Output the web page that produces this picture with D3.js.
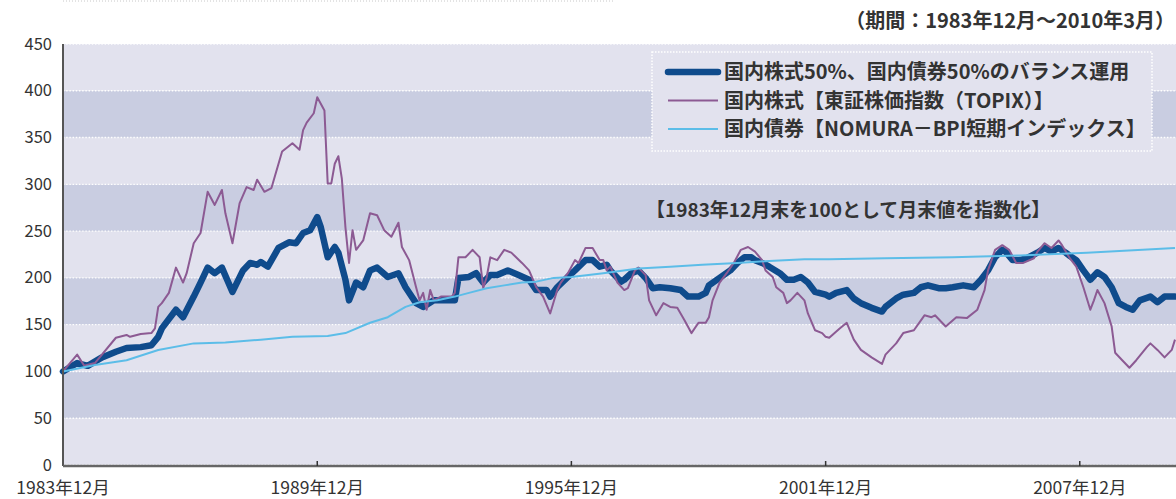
<!DOCTYPE html>
<html><head><meta charset="utf-8">
<script src="https://cdn.jsdelivr.net/npm/d3@7"></script>
<style>
html,body{margin:0;padding:0;background:#fff;}
svg{display:block;}
text{font-family:"Noto Sans CJK JP","DejaVu Sans",sans-serif;}
</style></head>
<body>
<svg id="chart" width="1176" height="499"></svg>
<script>
// ---- data (index, 1983年12月末 = 100) ----
const topixMonths = ["1983-12","1984-04","1984-06","1984-09","1985-03","1985-06","1985-07","1985-10","1986-01","1986-02","1986-03","1986-04","1986-06","1986-08","1986-10","1986-11","1987-01","1987-03","1987-05","1987-07","1987-09","1987-10","1987-12","1988-02","1988-04","1988-06","1988-07","1988-09","1988-11","1989-02","1989-05","1989-07","1989-08","1989-09","1989-11","1989-12","1990-02","1990-03","1990-04","1990-05","1990-06","1990-07","1990-08","1990-09","1990-10","1990-11","1991-01","1991-03","1991-05","1991-07","1991-09","1991-11","1991-12","1992-02","1992-04","1992-05","1992-06","1992-07","1992-08","1992-09","1992-11","1993-02","1993-03","1993-04","1993-06","1993-08","1993-10","1993-11","1993-12","1994-01","1994-03","1994-05","1994-07","1994-10","1994-12","1995-02","1995-04","1995-06","1995-08","1995-09","1995-11","1996-01","1996-02","1996-04","1996-06","1996-08","1996-09","1996-10","1996-11","1997-01","1997-03","1997-04","1997-06","1997-07","1997-09","1997-10","1997-12","1998-02","1998-04","1998-06","1998-08","1998-10","1998-12","1999-02","1999-03","1999-04","1999-06","1999-08","1999-10","1999-12","2000-02","2000-04","2000-06","2000-07","2000-09","2000-10","2000-12","2001-01","2001-02","2001-04","2001-06","2001-07","2001-09","2001-11","2001-12","2002-01","2002-04","2002-06","2002-08","2002-10","2003-01","2003-04","2003-05","2003-08","2003-10","2004-01","2004-04","2004-06","2004-07","2004-10","2005-01","2005-04","2005-07","2005-09","2005-10","2005-12","2006-02","2006-04","2006-06","2006-08","2006-11","2006-12","2007-02","2007-04","2007-06","2007-07","2007-09","2007-11","2008-01","2008-03","2008-04","2008-05","2008-07","2008-09","2008-10","2008-12","2009-02","2009-04","2009-07","2009-08","2009-10","2009-12","2010-02","2010-03"];
const topixValues = [100,118,106,109,136,139,137,140,141,146,169,173,184,211,195,205,237,248,292,278,294,269,237,280,297,294,305,292,296,335,344,337,358,366,376,393,379,301,301,322,330,306,254,216,251,230,240,269,267,251,244,259,233,219,190,176,184,166,187,176,180,180,184,222,222,230,222,189,201,222,219,230,227,216,208,190,180,162,187,195,205,219,216,232,232,219,219,208,212,195,187,189,208,211,203,176,160,173,169,168,155,141,152,152,158,176,195,205,216,230,233,228,219,208,201,190,184,173,176,184,176,162,144,141,137,136,146,152,134,123,115,108,118,130,141,144,160,158,160,148,158,157,166,187,208,230,235,230,216,216,221,228,237,232,240,235,222,212,190,166,176,187,173,148,120,112,104,112,126,130,123,115,123,134];

const balanceMonths = ["1983-12","1984-04","1984-07","1984-11","1985-03","1985-06","1985-10","1986-01","1986-03","1986-04","1986-08","1986-10","1987-01","1987-03","1987-05","1987-07","1987-09","1987-12","1988-03","1988-05","1988-07","1988-08","1988-10","1989-01","1989-04","1989-06","1989-08","1989-10","1989-12","1990-01","1990-03","1990-05","1990-06","1990-08","1990-09","1990-11","1991-01","1991-03","1991-05","1991-08","1991-11","1992-01","1992-04","1992-06","1992-09","1993-01","1993-03","1993-04","1993-07","1993-09","1993-11","1994-01","1994-03","1994-06","1994-09","1994-12","1995-02","1995-05","1995-06","1995-08","1995-11","1996-01","1996-04","1996-06","1996-08","1996-10","1996-11","1997-02","1997-03","1997-05","1997-07","1997-09","1997-11","1998-01","1998-04","1998-07","1998-09","1998-12","1999-02","1999-03","1999-06","1999-09","1999-11","2000-01","2000-03","2000-04","2000-06","2000-08","2000-11","2001-01","2001-03","2001-05","2001-07","2001-09","2001-12","2002-01","2002-03","2002-06","2002-08","2002-10","2003-01","2003-04","2003-05","2003-08","2003-10","2004-01","2004-03","2004-05","2004-08","2004-10","2004-12","2005-03","2005-06","2005-08","2005-10","2005-12","2006-02","2006-03","2006-05","2006-07","2006-09","2006-12","2007-02","2007-04","2007-06","2007-08","2007-09","2007-11","2008-01","2008-03","2008-05","2008-07","2008-09","2008-11","2009-01","2009-03","2009-05","2009-08","2009-10","2009-12","2010-03"];
const balanceValues = [100,109,106,115,121,125,126,128,137,146,166,158,180,195,211,205,211,185,208,216,214,217,212,232,238,237,248,251,265,254,222,233,227,198,176,195,190,208,211,201,205,190,173,169,176,176,176,200,201,205,195,203,203,208,203,198,187,187,180,190,201,208,219,219,212,214,208,196,198,205,208,200,189,190,189,187,180,180,184,192,200,208,216,222,222,219,216,212,205,198,198,201,195,185,182,180,184,187,178,173,168,164,169,178,182,184,190,192,189,189,190,192,190,198,208,222,230,228,219,219,221,227,232,228,232,227,224,219,208,198,206,201,190,173,169,166,176,180,174,180,180];

const bondMonths = ["1983-12","1984-09","1985-06","1986-03","1987-01","1987-10","1988-08","1989-05","1990-03","1990-08","1991-03","1991-08","1992-01","1992-05","1992-10","1993-03","1993-07","1993-12","1994-05","1994-10","1995-02","1995-07","1995-12","1996-09","1997-07","1998-04","1999-01","1999-11","2000-08","2001-06","2002-01","2003-05","2004-12","2006-07","2008-02","2010-03"];
const bondValues = [100,107,112,123,130,131,134,137,138,141,152,158,169,174,176,180,184,189,192,195,196,200,201,205,210,212,214,216,218,220,220,221,222,224,227,232];

const seriesNames = ["国内株式50%、国内債券50%のバランス運用","国内株式【東証株価指数（TOPIX）】","国内債券【NOMURA－BPI短期インデックス】"];
const xTickMonths = ["1983-12","1989-12","1995-12","2001-12","2007-12"];
const xTickLabels = ["1983年12月","1989年12月","1995年12月","2001年12月","2007年12月"];
const yTickValues = [0,50,100,150,200,250,300,350,400,450];
const periodNote = "（期間：1983年12月～2010年3月）";
const indexNote = "【1983年12月末を100として月末値を指数化】";

// ---- drawing ----
const parse = d3.timeParse("%Y-%m");
const svg = d3.select("#chart");
const L = 63, R = 1176, T = 44, B = 465;
const x = d3.scaleTime().domain([parse("1983-12"), parse("2010-03")]).range([L, 1175]);
const y = d3.scaleLinear().domain([0, 450]).range([B, T]);

// faint dotted separator at top
svg.append("line").attr("x1", L).attr("x2", 615).attr("y1", 1).attr("y2", 1)
  .attr("stroke", "#c8c8c8").attr("stroke-dasharray", "1,2");

// bands
const bandLight = "#e2e2ee", bandDark = "#c9cde1";
for (let i = 0; i < yTickValues.length - 1; i++) {
  const v0 = yTickValues[i], v1 = yTickValues[i + 1];
  svg.append("rect").attr("x", L).attr("width", R - L)
    .attr("y", y(v1)).attr("height", y(v0) - y(v1))
    .attr("fill", i % 2 === 0 ? bandLight : bandDark);
}
// dotted grid
svg.append("g").selectAll("line").data(yTickValues).join("line")
  .attr("x1", L).attr("x2", R).attr("y1", d => y(d)).attr("y2", d => y(d))
  .attr("stroke", "#ffffff").attr("stroke-width", 1.4).attr("stroke-dasharray", "1.4,1.8");

// y labels
svg.append("g").selectAll("text").data(yTickValues).join("text")
  .attr("x", 52).attr("y", d => y(d)).attr("dy", "0.34em")
  .attr("text-anchor", "end").attr("font-size", 16.5).attr("fill", "#333")
  .attr("font-family", "'DejaVu Sans Condensed','DejaVu Sans',sans-serif")
  .text(d => d);

// lines
const mk = (months, vals) => months.map((m, i) => ({d: parse(m), v: vals[i]}));
const line = d3.line().x(p => x(p.d)).y(p => y(p.v));
const gLines = svg.append("g");
gLines.append("path").datum(mk(balanceMonths, balanceValues)).attr("d", line)
  .attr("fill", "none").attr("stroke", "#0f4b8c").attr("stroke-width", 6.5)
  .attr("stroke-linejoin", "round").attr("stroke-linecap", "round");
gLines.append("path").datum(mk(topixMonths, topixValues)).attr("d", line)
  .attr("fill", "none").attr("stroke", "#8c5a93").attr("stroke-width", 2)
  .attr("stroke-linejoin", "round");
gLines.append("path").datum(mk(bondMonths, bondValues)).attr("d", line)
  .attr("fill", "none").attr("stroke", "#5cbde8").attr("stroke-width", 2)
  .attr("stroke-linejoin", "round");

// axes lines
svg.append("line").attr("x1", L).attr("x2", L).attr("y1", T).attr("y2", B + 1)
  .attr("stroke", "#555").attr("stroke-width", 2);
svg.append("line").attr("x1", L).attr("x2", R).attr("y1", B + 1).attr("y2", B + 1)
  .attr("stroke", "#666").attr("stroke-width", 2.5);
svg.append("g").selectAll("line").data(xTickMonths.slice(1)).join("line")
  .attr("x1", d => x(parse(d))).attr("x2", d => x(parse(d)))
  .attr("y1", B + 1).attr("y2", B - 4).attr("stroke", "#333").attr("stroke-width", 1.5);
svg.append("g").selectAll("text").data(xTickMonths).join("text")
  .attr("x", d => x(parse(d))).attr("y", 494).attr("text-anchor", "middle")
  .attr("font-size", 17.5).attr("fill", "#333")
  .text((d, i) => xTickLabels[i]);

// period note
svg.append("text").attr("x", 1175).attr("y", 28).attr("text-anchor", "end")
  .attr("font-size", 20).attr("font-weight", "bold").attr("fill", "#333").text(periodNote);
// index note
svg.append("text").attr("x", 646).attr("y", 217)
  .attr("font-size", 19).attr("font-weight", "bold").attr("fill", "#333").text(indexNote);

// legend
const lg = svg.append("g");
lg.append("rect").attr("x", 652).attr("y", 52).attr("width", 500).attr("height", 99)
  .attr("fill", bandLight).attr("stroke", "#fff").attr("stroke-width", 1.5).attr("stroke-dasharray", "1.5,1.5");
const legendStyles = [
  {c: "#0f4b8c", w: 6.5}, {c: "#8c5a93", w: 2}, {c: "#5cbde8", w: 2}
];
seriesNames.forEach((name, i) => {
  const cy = 72 + i * 28.5;
  lg.append("line").attr("x1", 668).attr("x2", 718).attr("y1", cy).attr("y2", cy)
    .attr("stroke", legendStyles[i].c).attr("stroke-width", legendStyles[i].w).attr("stroke-linecap", i === 0 ? "round" : "butt");
  lg.append("text").attr("x", 724).attr("y", cy).attr("dy", "0.36em")
    .attr("font-size", 20).attr("font-weight", "bold").attr("fill", "#333").text(name);
});
</script>
</body></html>
